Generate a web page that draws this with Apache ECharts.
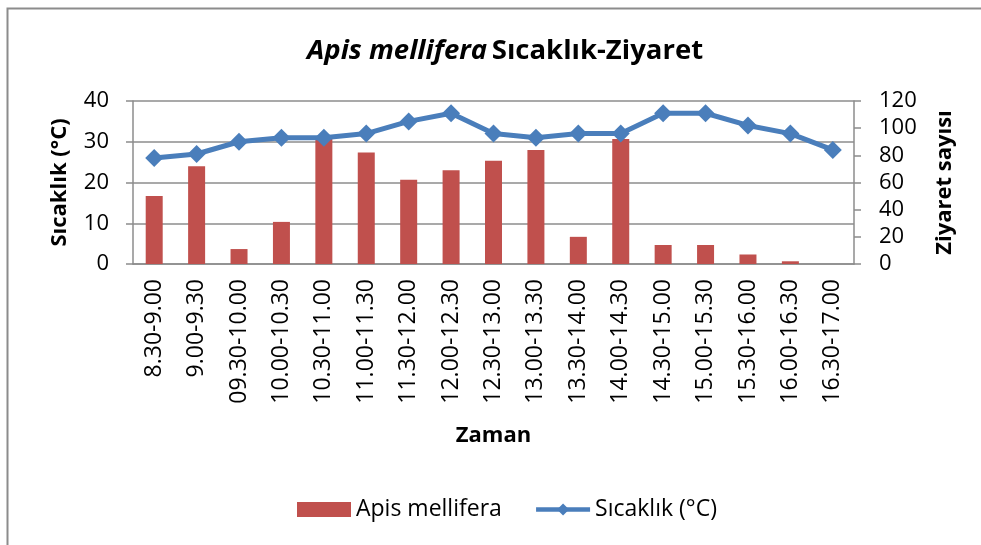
<!DOCTYPE html>
<html>
<head>
<meta charset="utf-8">
<script src="https://cdn.jsdelivr.net/npm/echarts@6/dist/echarts.min.js"></script>
<style>
  html, body { margin: 0; padding: 0; background: #fff; }
  .main { width: 981px; height: 545px; }
</style>
</head>
<body>
<div class="main" id="main"></div>
<script>
var zaman = ['8.30-9.00', '9.00-9.30', '09.30-10.00', '10.00-10.30', '10.30-11.00', '11.00-11.30',
  '11.30-12.00', '12.00-12.30', '12.30-13.00', '13.00-13.30', '13.30-14.00', '14.00-14.30',
  '14.30-15.00', '15.00-15.30', '15.30-16.00', '16.00-16.30', '16.30-17.00'];
// ziyaret sayisi (sag eksen)
var apis = [50, 72, 11, 31, 93, 82, 62, 69, 76, 84, 20, 92, 14, 14, 7, 2, 0];
// sicaklik (sol eksen)
var sicaklik = [26, 27, 30, 31, 31, 32, 35, 37, 32, 31, 32, 32, 37, 37, 34, 32, 28];

var font = 'Open Sans';
var myChart = echarts.init(document.getElementById('main'));

var option = {
  animation: false,
  textStyle: { fontFamily: font, color: '#000' },
  graphic: [{
    type: 'rect',
    shape: { x: 7.5, y: 8.5, width: 980, height: 545 },
    style: { fill: 'none', stroke: '#8c8c8c', lineWidth: 2 }
  }],
  title: {
    text: '{i|Apis mellifera} {b|Sıcaklık-Ziyaret}',
    left: 302,
    top: 32,
    textStyle: {
      rich: {
        i: { fontFamily: font, fontSize: 27.5, fontWeight: 'bold', fontStyle: 'italic', color: '#000' },
        b: { fontFamily: font, fontSize: 27.5, fontWeight: 'bold', color: '#000' }
      }
    }
  },
  grid: { left: 133, right: 127, top: 101, bottom: 281 },
  legend: {
    bottom: 19,
    left: 292,
    itemGap: 32,
    itemWidth: 54,
    itemHeight: 15,
    textStyle: { fontFamily: font, fontSize: 23, color: '#000' },
    data: [
      { name: 'Apis mellifera', icon: 'rect' },
      { name: 'Sıcaklık (°C)', lineStyle: { width: 4.5 } }
    ]
  },
  xAxis: {
    type: 'category',
    data: zaman,
    name: 'Zaman',
    nameLocation: 'middle',
    nameGap: 161,
    nameTextStyle: { fontFamily: font, fontSize: 22, fontWeight: 'bold', color: '#000' },
    axisLine: { lineStyle: { color: '#8c8c8c', width: 1.5 } },
    axisTick: { length: 7, lineStyle: { color: '#8c8c8c', width: 1.5 } },
    axisLabel: { rotate: 90, fontSize: 23, margin: 15, color: '#000' }
  },
  yAxis: [{
    type: 'value',
    min: 0, max: 40, interval: 10,
    name: 'Sıcaklık (°C)',
    nameLocation: 'middle',
    nameRotate: 90,
    nameGap: 62,
    nameTextStyle: { fontFamily: font, fontSize: 22, fontWeight: 'bold', color: '#000' },
    axisLine: { show: true, lineStyle: { color: '#8c8c8c', width: 1.5 } },
    axisTick: { show: true, length: 7, lineStyle: { color: '#8c8c8c', width: 1.5 } },
    axisLabel: { fontSize: 22, margin: 24, color: '#000' },
    splitLine: { lineStyle: { color: '#8c8c8c', width: 1.5 } }
  }, {
    type: 'value',
    min: 0, max: 120, interval: 20,
    name: 'Ziyaret sayısı',
    nameLocation: 'middle',
    nameRotate: 90,
    nameGap: 80,
    nameTextStyle: { fontFamily: font, fontSize: 22, fontWeight: 'bold', color: '#000' },
    axisLine: { show: true, lineStyle: { color: '#8c8c8c', width: 1.5 } },
    axisTick: { show: true, length: 7, lineStyle: { color: '#8c8c8c', width: 1.5 } },
    axisLabel: { fontSize: 22, margin: 25, color: '#000' },
    splitLine: { show: false }
  }],
  series: [{
    name: 'Apis mellifera',
    type: 'bar',
    yAxisIndex: 1,
    barWidth: 17,
    itemStyle: { color: '#c0504d' },
    data: apis
  }, {
    name: 'Sıcaklık (°C)',
    type: 'line',
    yAxisIndex: 0,
    symbol: 'diamond',
    symbolSize: 18,
    lineStyle: { color: '#4a7ebb', width: 5 },
    itemStyle: { color: '#4a7ebb' },
    data: sicaklik
  }]
};

myChart.setOption(option);
</script>
</body>
</html>
